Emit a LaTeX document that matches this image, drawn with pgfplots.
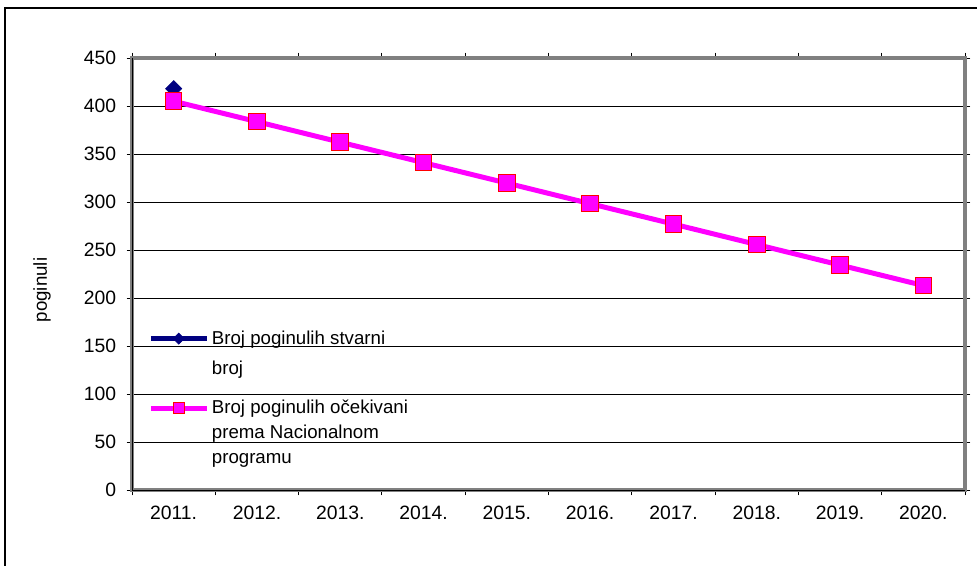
\documentclass[border=0pt]{standalone}
\usepackage{fontspec}
\setmainfont{Liberation Sans}
\usepackage{pgfplots}
\pgfplotsset{compat=1.18}

\definecolor{navyser}{RGB}{0,0,128}
\definecolor{magser}{RGB}{255,0,255}
\definecolor{framegray}{RGB}{128,128,128}

\begin{document}
\fontsize{14}{17}\selectfont
\begin{tikzpicture}
\path[use as bounding box] (0,0) rectangle (732.75pt,423.75pt);
% outer chart border
\draw[black, line width=0.8pt] (3.75pt,-2pt) -- (3.75pt,417.75pt) -- (736pt,417.75pt);
\begin{axis}[
    at={(99pt,56.25pt)}, anchor=south west,
    scale only axis,
    width=624.75pt, height=324pt,
    xmin=-0.5, xmax=9.5,
    ymin=0, ymax=450,
    xtick={-0.5,0.5,...,9.5},
    x tick label as interval,
    xticklabels={2011.,2012.,2013.,2014.,2015.,2016.,2017.,2018.,2019.,2020.},
    ytick={0,50,...,450},
    /pgf/number format/assume math mode=true,
    ymajorgrids,
    major grid style={black, line width=0.7pt},
    tick align=outside,
    major tick length=4pt,
    tick style={black, line width=0.7pt},
    axis line style={framegray, line width=2.6pt},
    ticklabel style={font=\fontsize{14.5}{17}\selectfont},
    yticklabel style={xshift=-3pt},
    xticklabel style={yshift=-3pt},
    legend style={draw=none, fill=none, at={(rel axis cs:0.0192,0.376)}, anchor=north west,
        inner sep=0pt, row sep=36pt, nodes={inner sep=2pt}},
    legend cell align=left,
    legend image code/.code={\draw[mark repeat=2, mark phase=2, #1,
        every mark/.append style={scale=0.68}]
        plot coordinates {(0pt,0pt) (21pt,0pt) (42pt,0pt)};},
]
\addplot[navyser, line width=3.75pt, mark=square*, mark size=4.3pt,
    mark options={rotate=45, fill=navyser, draw=navyser, line width=0.5pt}]
    coordinates {(0,418)};
\addlegendentry{\parbox[t]{7cm}{Broj poginulih stvarni\\[5.5pt]broj}}
\addplot[magser, line width=3.75pt, mark=square*, mark size=6.2pt,
    mark options={fill=magser, draw=red, line width=0.75pt}]
    coordinates {(0,405) (1,383.7) (2,362.3) (3,341) (4,319.7) (5,298.3)
                 (6,277) (7,255.7) (8,234.3) (9,213)};
\addlegendentry{\parbox[t]{7cm}{Broj poginulih očekivani\\[1.75pt]prema Nacionalnom\\[1.75pt]programu}}
\draw[black, line width=0.7pt] (rel axis cs:0,1) -- (rel axis cs:0,0) -- (rel axis cs:1,0);
\end{axis}
\node[rotate=90, anchor=center] at (31.5pt,206.25pt) {poginuli};
\end{tikzpicture}
\end{document}
